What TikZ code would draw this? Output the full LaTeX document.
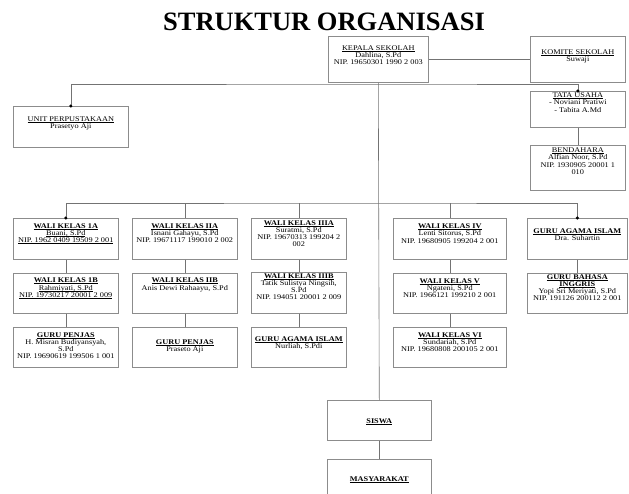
\documentclass[tikz,border=0pt]{standalone}
\usepackage{fontspec}
\setmainfont{Liberation Serif}
\newfontfamily\kotakfont[FakeStretch=1.15]{Liberation Serif}
\usetikzlibrary{positioning,calc}

\setlength{\lineskiplimit}{-4pt}
\newcommand{\kecil}{\kotakfont\fontsize{7.2}{7.2}\selectfont}
% underline set just under the baseline
\newcommand{\gbawah}[1]{\leavevmode\setbox0\hbox{#1}\rlap{\rule[-0.9pt]{\wd0}{0.4pt}}\box0}
% box text: width, height, gap above the first line, lines
\newcommand{\isikotak}[4]{\parbox[t][#2][t]{#1}{\centering\vspace*{\dimexpr#3+0.7pt\relax}#4}}
\newcommand{\judulb}[1]{\gbawah{\textbf{#1}}}

\tikzset{
	kotak/.style={draw=black!45, line width=0.6pt, inner sep=0pt, anchor=north west, font=\kecil},
	garis/.style={draw=black!55, line width=0.6pt},
}

\begin{document}
\begin{tikzpicture}[x=1pt, y=-1pt]

	\useasboundingbox (0,0) rectangle (629,493);
	\clip (0,0) rectangle (629,493);

	\def\xA{13}
	\def\xB{132}
	\def\xC{251}
	\def\xD{393}
	\def\xE{527}
	%
	\def\yA{218}
	\def\yB{273}
	\def\yC{327}

	% judul
	\node[font=\fontsize{26.5}{30}\selectfont\bfseries, anchor=base] (judul)
		at (324,30.5) {STRUKTUR ORGANISASI};

	% pimpinan
	\node[kotak] (kepala) at (328,36)
		{\isikotak{100pt}{46pt}{8.5pt}{\gbawah{KEPALA SEKOLAH}\\ Dahlina, S.Pd\\ NIP. 19650301 1990 2 003}};
	\node[kotak] (komite) at (530,36)
		{\isikotak{95pt}{46pt}{12.5pt}{\gbawah{KOMITE SEKOLAH}\\ Suwaji}};
	\node[kotak] (unit) at (13,106)
		{\isikotak{115pt}{41pt}{10pt}{\gbawah{UNIT PERPUSTAKAAN}\\ Prasetyo Aji}};
	\node[kotak] (tata) at (530,91)
		{\isikotak{95pt}{36pt}{1pt}{\gbawah{TATA USAHA}\\ - Noviani Pratiwi\\ - Tabita A.Md}};
	\node[kotak] (bendahara) at (530,145)
		{\isikotak{95pt}{45pt}{2pt}{\gbawah{BENDAHARA}\\ Alfian Noor, S.Pd\\ NIP. 1930905 20001 1\\ 010}};

	% guru, baris 1
	\node[kotak] (wali1a) at (\xA,\yA)
		{\isikotak{105pt}{41pt}{4.5pt}{\judulb{WALI KELAS 1A}\\ \gbawah{Buani, S.Pd}\\ \gbawah{NIP. 1962 0409 19509 2 001}}};
	\node[kotak] (wali2a) at (\xB,\yA)
		{\isikotak{105pt}{41pt}{4.5pt}{\judulb{WALI KELAS IIA}\\ Isnani Gahayu, S.Pd\\ NIP. 19671117 199010 2 002}};
	\node[kotak] (wali3a) at (\xC,\yA)
		{\isikotak{95pt}{41pt}{1.5pt}{\judulb{WALI KELAS IIIA}\\ Suratmi, S.Pd\\ NIP. 19670313 199204 2\\ 002}};
	\node[kotak] (wali4) at (\xD,\yA)
		{\isikotak{113pt}{41pt}{5pt}{\judulb{WALI KELAS IV}\\ Lenti Sitorus, S.Pd\\ NIP. 19680905 199204 2 001}};
	\node[kotak] (agama) at (\xE,\yA)
		{\isikotak{100pt}{41pt}{9.5pt}{\judulb{GURU AGAMA ISLAM}\\ Dra. Suhartin}};

	% guru, baris 2
	\node[kotak] (wali1b) at (\xA,\yB)
		{\isikotak{105pt}{40pt}{4.2pt}{\judulb{WALI KELAS 1B}\\ \gbawah{Rahmiyati, S.Pd}\\ \gbawah{NIP. 19730217 20001 2 009}}};
	\node[kotak] (wali2b) at (\xB,\yB)
		{\isikotak{105pt}{40pt}{4.2pt}{\judulb{WALI KELAS IIB}\\ Anis Dewi Rahaayu, S.Pd}};
	\node[kotak] (wali3b) at (\xC,272)
		{\isikotak{95pt}{41pt}{0.5pt}{\judulb{WALI KELAS IIIB}\\ Tatik Sulistya Ningsih,\\ S.Pd\\ NIP. 194051 20001 2 009}};
	\node[kotak] (wali5) at (\xD,\yB)
		{\isikotak{113pt}{40pt}{4.5pt}{\judulb{WALI KELAS V}\\ Ngateni, S.Pd\\ NIP. 1966121 199210 2 001}};
	\node[kotak] (inggris) at (\xE,\yB)
		{\isikotak{100pt}{40pt}{0.5pt}{\judulb{GURU BAHASA}\\ \judulb{INGGRIS}\\ Yopi Sri Meriyati, S.Pd\\ NIP. 191126 200112 2 001}};

	% guru, baris 3
	\node[kotak] (penjas1) at (\xA,\yC)
		{\isikotak{105pt}{40pt}{4.5pt}{\judulb{GURU PENJAS}\\ H. Misran Budiyansyah,\\ S.Pd\\ NIP. 19690619 199506 1 001}};
	\node[kotak] (penjas2) at (\xB,\yC)
		{\isikotak{105pt}{40pt}{12pt}{\judulb{GURU PENJAS}\\ Praseto Aji}};
	\node[kotak] (agama2) at (\xC,\yC)
		{\isikotak{95pt}{40pt}{9pt}{\judulb{GURU AGAMA ISLAM}\\ Nurliah, S.Pdi}};
	\node[kotak] (wali6) at (\xD,\yC)
		{\isikotak{113pt}{40pt}{4.5pt}{\judulb{WALI KELAS VI}\\ Sundariah, S.Pd\\ NIP. 19680808 200105 2 001}};

	% siswa, masyarakat
	\node[kotak] (siswa) at (327,400)
		{\isikotak{104pt}{40pt}{18pt}{\judulb{SISWA}}};
	\node[kotak] (masyarakat) at (327,459)
		{\isikotak{104pt}{50pt}{16.5pt}{\judulb{MASYARAKAT}}};

	% garis
	\coordinate (atas) at (378,84);
	\coordinate (tengah) at (378,203);

	\draw[garis] (kepala.east) -- (komite.west);
	\draw[garis] (kepala.south) -- (siswa.north);
	\draw[garis] (unit.north) |- (atas) -| (tata.north);
	\draw[garis] (tata.south) -- (bendahara.north);
	\draw[garis] (wali1a.north) |- (tengah) -| (agama.north);
	\foreach \k in {wali2a, wali3a, wali4}{
		\draw[garis] (tengah -| \k.north) -- (\k.north);
	}
	\foreach \a/\b in {wali1a/wali1b, wali1b/penjas1, wali2a/wali2b, wali2b/penjas2,
		wali3a/wali3b, wali3b/agama2, wali4/wali5, wali5/wali6, agama/inggris, siswa/masyarakat}{
		\draw[garis] (\a.south) -- (\b.north);
	}

	\fill (unit.north) circle[radius=1.7pt]
		(tata.north) circle[radius=1.7pt]
		(wali1a.north) circle[radius=1.7pt]
		(agama.north) circle[radius=1.7pt];

\end{tikzpicture}
\end{document}
